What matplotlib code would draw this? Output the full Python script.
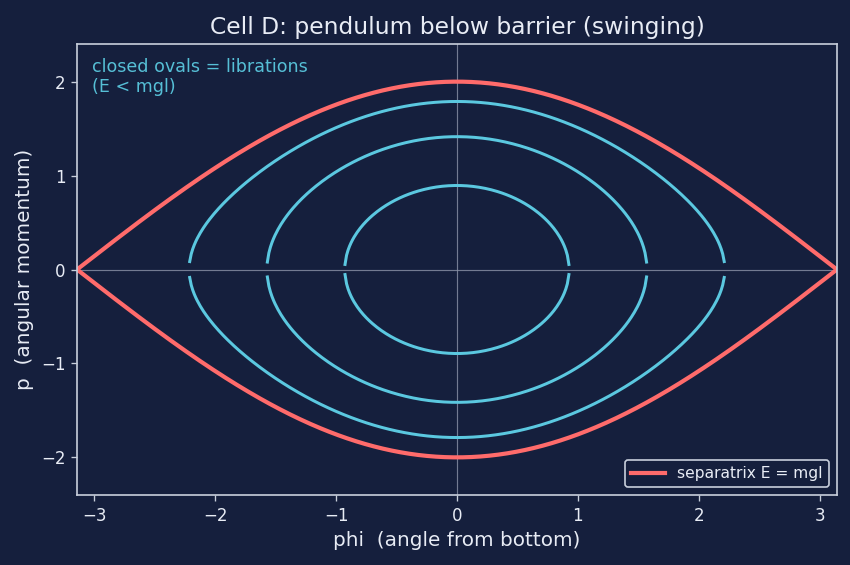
import numpy as np
import matplotlib
matplotlib.use("Agg")
import matplotlib.pyplot as plt

# Data: energies of libration orbits (E = p^2/2 - cos(phi), mgl = 1)
libration_energies = [-0.6, 0.0, 0.6]
separatrix_energy = 1.0
x_ticks = [-3, -2, -1, 0, 1, 2, 3]
y_ticks = [-2, -1, 0, 1, 2]

BG = "#151f3d"
FG = "#e8ecf5"
SPINE = "#c8cfdc"
CYAN = "#5bc8e0"
TXT_CYAN = "#56bfd6"
CORAL = "#ff6b6b"

DPI = 120
fig = plt.figure(figsize=(850 / DPI, 565 / DPI), dpi=DPI, facecolor=BG)
ax = fig.add_axes([0.0906, 0.124, 0.894, 0.798], facecolor=BG)

phi = np.linspace(-np.pi, np.pi, 500)
for E in libration_energies:
    arg = 2 * (E + np.cos(phi))
    p = np.where(arg > 0, np.sqrt(np.clip(arg, 0, None)), np.nan)
    ax.plot(phi, p, color=CYAN, lw=1.8)
    ax.plot(phi, -p, color=CYAN, lw=1.8)

phi_s = np.linspace(-np.pi, np.pi, 600)
p_s = np.sqrt(np.clip(2 * (separatrix_energy + np.cos(phi_s)), 0, None))
ax.plot(phi_s, p_s, color=CORAL, lw=2.5, label="separatrix E = mgl")
ax.plot(phi_s, -p_s, color=CORAL, lw=2.5)

ax.axhline(0, color="#8c93a8", lw=0.7, alpha=0.8, zorder=0)
ax.axvline(0, color="#8c93a8", lw=0.7, alpha=0.8, zorder=0)

ax.set_xlim(-np.pi, np.pi)
ax.set_ylim(-2.4, 2.4)
ax.set_xticks(x_ticks)
ax.set_yticks(y_ticks)
ax.set_xticklabels([f"{t}".replace("-", "\u2212") for t in x_ticks])
ax.set_yticklabels([f"{t}".replace("-", "\u2212") for t in y_ticks])
ax.tick_params(colors=SPINE, labelcolor=FG, labelsize=10)
for s in ax.spines.values():
    s.set_color(SPINE)
    s.set_linewidth(1.0)

ax.set_xlabel("phi  (angle from bottom)", color=FG, fontsize=12)
ax.set_ylabel("p  (angular momentum)", color=FG, fontsize=12)
ax.set_title("Cell D: pendulum below barrier (swinging)", color=FG, fontsize=14)

ax.text(0.02, 0.97, "closed ovals = librations\n(E < mgl)", transform=ax.transAxes,
        ha="left", va="top", color=TXT_CYAN, fontsize=10.5)

leg = ax.legend(loc="lower right", facecolor=BG, edgecolor=SPINE, fontsize=9.3,
                framealpha=1, handlelength=2.2)
for t in leg.get_texts():
    t.set_color(FG)

fig.savefig("out.png", dpi=DPI, facecolor=BG)
